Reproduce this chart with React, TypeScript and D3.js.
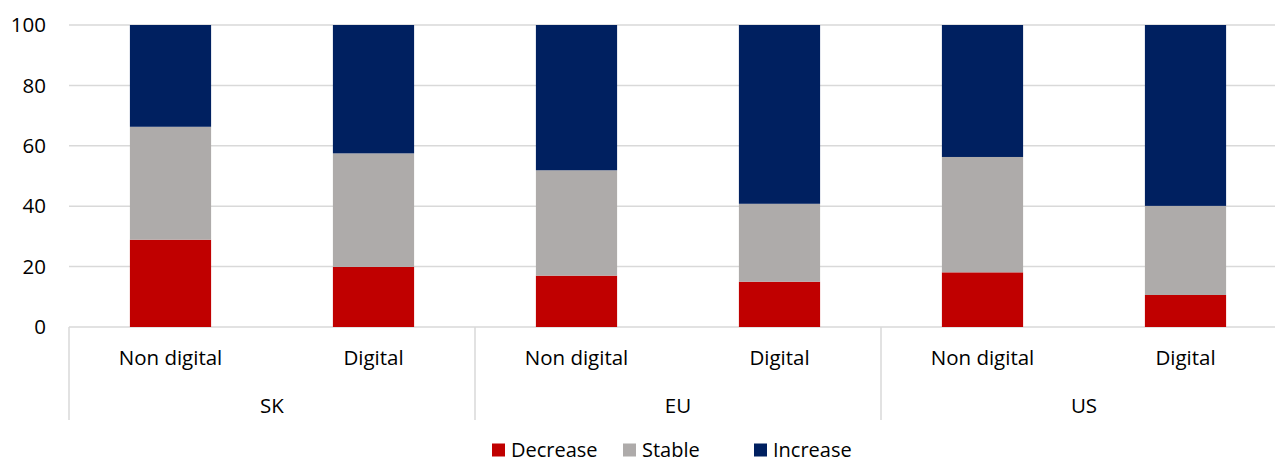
import * as d3 from "d3";

const groups = ["SK", "EU", "US"];
const subLabels = ["Non digital", "Digital"];
const seriesNames = ["Decrease", "Stable", "Increase"];
const seriesColors = ["#C00000", "#AEABAA", "#002060"];

const decrease = [28.9, 19.9, 17.0, 15.0, 18.1, 10.6];
const stable = [37.4, 37.6, 34.9, 25.8, 38.2, 29.5];
const increase = [33.7, 42.5, 48.1, 59.2, 43.7, 59.9];
const yTicks = [0, 20, 40, 60, 80, 100];

const width = 1275;
const height = 464;
const font = "'Open Sans', 'Noto Sans', sans-serif";
const fs = 20.5;

function App() {
  const rows = decrease.map((d, i) => ({
    key: i,
    Decrease: d,
    Stable: stable[i],
    Increase: increase[i],
  }));
  const stacked = d3.stack<any>().keys(seriesNames)(rows);

  const x = d3
    .scaleBand<number>()
    .domain(rows.map((r) => r.key))
    .range([69, 1287])
    .paddingInner(0.6)
    .paddingOuter(0.3);
  const y = d3.scaleLinear().domain([0, 100]).range([327, 25]);
  const step = x.step();
  const left = 69;

  const legendX = [492, 623, 754];

  return (
    <svg
      width={width}
      height={height}
      style={{ position: "absolute", left: 0, top: 0, background: "#fff" }}
      fontFamily={font}
    >
      {yTicks.map((t) => (
        <g key={t}>
          <line
            x1={left}
            x2={width}
            y1={y(t)}
            y2={y(t)}
            stroke="#D9D9D9"
            strokeWidth={1.5}
          />
          <text
            x={46}
            y={y(t)}
            dy="0.35em"
            textAnchor="end"
            fontSize={fs}
            fill="#000"
          >
            {t}
          </text>
        </g>
      ))}
      {stacked.map((s, si) => (
        <g key={s.key} fill={seriesColors[si]}>
          {s.map((d, i) => (
            <rect
              key={i}
              x={x(i)}
              width={x.bandwidth()}
              y={y(d[1])}
              height={y(d[0]) - y(d[1])}
            />
          ))}
        </g>
      ))}
      {[0, 1, 2, 3].map((k) => (
        <line
          key={k}
          x1={left + k * 2 * step}
          x2={left + k * 2 * step}
          y1={327}
          y2={420}
          stroke="#D9D9D9"
          strokeWidth={1.5}
        />
      ))}
      {rows.map((r) => (
        <text
          key={r.key}
          x={(x(r.key) as number) + x.bandwidth() / 2}
          y={358}
          dy="0.35em"
          textAnchor="middle"
          fontSize={fs}
        >
          {subLabels[r.key % 2]}
        </text>
      ))}
      {groups.map((g, gi) => (
        <text
          key={g}
          x={left + (gi * 2 + 1) * step}
          y={406}
          dy="0.35em"
          textAnchor="middle"
          fontSize={fs}
        >
          {g}
        </text>
      ))}
      {seriesNames.map((n, i) => (
        <g key={n} transform={`translate(${legendX[i]},450)`}>
          <rect x={0} y={-6.5} width={13} height={13} fill={seriesColors[i]} />
          <text x={19} dy="0.35em" fontSize={20}>
            {n}
          </text>
        </g>
      ))}
    </svg>
  );
}

export default App;
